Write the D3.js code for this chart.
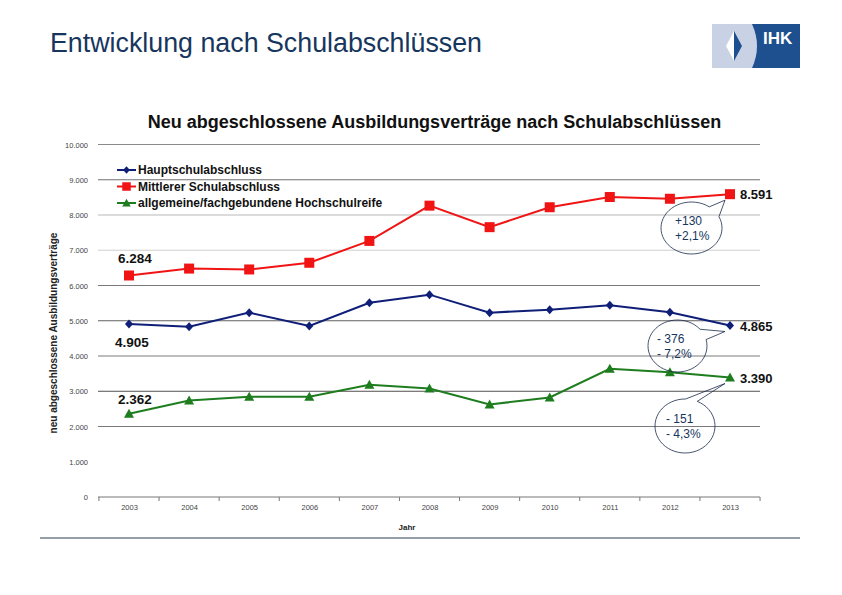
<!DOCTYPE html>
<html><head><meta charset="utf-8">
<script src="https://cdn.jsdelivr.net/npm/d3@7"></script>
<style>body{margin:0;background:#fff}svg{display:block;font-family:"Liberation Sans",Arial,sans-serif}</style>
</head><body><svg id="c" width="842" height="595"></svg>
<script>
const years = ["2003","2004","2005","2006","2007","2008","2009","2010","2011","2012","2013"];
const hauptschul = [4905,4830,5230,4850,5510,5740,5230,5315,5440,5241,4865];
const mittlerer = [6284,6480,6455,6645,7265,8265,7655,8220,8510,8461,8591];
const hochschul = [2362,2738,2842,2842,3182,3078,2624,2823,3635,3541,3390];
const seriesNames = ["Hauptschulabschluss","Mittlerer Schulabschluss","allgemeine/fachgebundene Hochschulreife"];
const yTicks = [0,1000,2000,3000,4000,5000,6000,7000,8000,9000,10000];
const startLabels = ["6.284","4.905","2.362"];
const endLabels = ["8.591","4.865","3.390"];
const bubbles = [["+130","+2,1%"],["- 376","- 7,2%"],["- 151","- 4,3%"]];

const svg = d3.select("#c");
const fmt = d => d3.format(",")(d).replace(/,/g,".");

// header
svg.append("text").attr("x",50).attr("y",52).attr("font-size",26.8).attr("fill","#17365d").text("Entwicklung nach Schulabschlüssen");
// logo
const lg = svg.append("g");
lg.append("rect").attr("x",712).attr("y",24).attr("width",88).attr("height",44).attr("fill","#1e4f8f");
lg.append("path").attr("d","M712,24 L752,24 Q762,46 752,68 L712,68 Z").attr("fill","#c9d1e5");
lg.append("path").attr("d","M734,31 L726,46 L734,61 Z").attr("fill","#ffffff");
lg.append("path").attr("d","M734,31 L742,46 L734,61 Z").attr("fill","#1e4f8f");
lg.append("text").attr("x",763).attr("y",44).attr("font-size",17).attr("font-weight","bold").attr("fill","#fff").text("IHK");

// chart
const x = d3.scalePoint().domain(years).range([129,730]);
const step = x.step();
const y = d3.scaleLinear().domain([0,10000]).range([497,144.5]);

svg.append("text").attr("x",434.5).attr("y",128).attr("text-anchor","middle").attr("font-size",18).attr("font-weight","bold").attr("fill","#111").text("Neu abgeschlossene Ausbildungsverträge nach Schulabschlüssen");

const gridCol = {10000:"#8a8a8a",9000:"#707070",8000:"#b8b8b8",7000:"#cfcfcf",6000:"#7a7a7a",5000:"#606060",4000:"#7a7a7a",3000:"#505050",2000:"#7a7a7a",1000:null,0:"#777"};
const x0 = 98, x1 = 760;
svg.append("g").selectAll("line").data(yTicks.filter(t=>gridCol[t])).join("line")
  .attr("x1",x0).attr("x2",x1).attr("y1",d=>y(d)).attr("y2",d=>y(d))
  .attr("stroke",d=>gridCol[d]).attr("stroke-width",1);

// y labels
svg.append("g").selectAll("text").data(yTicks).join("text")
  .attr("x",88).attr("y",d=>y(d)+3).attr("text-anchor","end").attr("font-size",7.5).attr("fill","#444").text(fmt);
// x ticks
const xa = d3.axisBottom(x).tickSize(0).tickPadding(0);
const gx = svg.append("g").attr("transform","translate(0,497)").call(xa);
gx.select(".domain").remove();
gx.selectAll("text").attr("dy",0).attr("y",13).attr("font-size",7.5).attr("fill","#444").attr("font-family","Liberation Sans, Arial, sans-serif");
svg.append("g").selectAll("line").data(d3.range(years.length+1)).join("line")
  .attr("x1",i=>x(years[0])-step/2+i*step).attr("x2",i=>x(years[0])-step/2+i*step)
  .attr("y1",497).attr("y2",501).attr("stroke","#777");
svg.append("text").attr("x",407).attr("y",530).attr("text-anchor","middle").attr("font-size",8).attr("font-weight","bold").attr("fill","#222").text("Jahr");
svg.append("text").attr("transform","translate(57,333) rotate(-90)").attr("text-anchor","middle").attr("font-size",10).attr("font-weight","bold").attr("fill","#222").text("neu abgeschlossene Ausbildungsverträge");

// series
const seriesData = [hauptschul, mittlerer, hochschul];
const colors = ["#0f1f78","#f01414","#1e7d1e"];
const line = d3.line().x((d,i)=>x(years[i])).y(d=>y(d));
seriesData.forEach((s,k)=>{
  svg.append("path").datum(s).attr("d",line).attr("fill","none").attr("stroke",colors[k]).attr("stroke-width",2);
});
function marker(g,k,cx,cy,scale){
  scale = scale||1;
  if(k===0) g.append("path").attr("d",`M${cx},${cy-4.5*scale} L${cx+4*scale},${cy} L${cx},${cy+4.5*scale} L${cx-4*scale},${cy} Z`).attr("fill",colors[0]);
  else if(k===1) g.append("rect").attr("x",cx-5*scale).attr("y",cy-5*scale).attr("width",10*scale).attr("height",10*scale).attr("fill",colors[1]);
  else g.append("path").attr("d",`M${cx},${cy-5*scale} L${cx+5*scale},${cy+4*scale} L${cx-5*scale},${cy+4*scale} Z`).attr("fill",colors[2]);
}
const mg = svg.append("g");
seriesData.forEach((s,k)=>s.forEach((v,i)=>marker(mg,k,x(years[i]),y(v))));

// legend
const leg = svg.append("g");
seriesNames.forEach((n,k)=>{
  const ly = 170 + k*16.5;
  leg.append("line").attr("x1",117).attr("x2",136).attr("y1",ly).attr("y2",ly).attr("stroke",colors[k]).attr("stroke-width",2);
  marker(leg,k,126.5,ly,0.85);
  leg.append("text").attr("x",138).attr("y",ly+4).attr("font-size",12).attr("font-weight","bold").attr("fill","#111").text(n);
});

// start / end labels
const order = [1,0,2];
const startPos = [[118,263],[115,347],[118,404]];
order.forEach((k,j)=>{
  svg.append("text").attr("x",startPos[j][0]).attr("y",startPos[j][1]).attr("font-size",13.5).attr("font-weight","bold").attr("fill","#111").text(startLabels[j]);
  const v = seriesData[k][years.length-1];
  svg.append("text").attr("x",x(years[years.length-1])+10).attr("y",y(v)+5).attr("font-size",13).attr("font-weight","bold").attr("fill","#111").text(endLabels[j]);
});

// bubbles
const bub = [
  {cx:691.5,cy:228,rx:30.5,ry:26,a1:-0.45,a2:-0.95,k:1,tx:675},
  {cx:677.5,cy:346,rx:29.5,ry:26,a1:-0.25,a2:-0.7,k:0,tx:657},
  {cx:685,cy:426,rx:30,ry:27,a1:-1.15,a2:-1.55,k:2,tx:666}
];
bub.forEach((b,j)=>{
  const tip = [x(years[years.length-1])-5, y(seriesData[b.k][years.length-1])+6];
  const p1 = [b.cx+b.rx*Math.cos(b.a1), b.cy+b.ry*Math.sin(b.a1)];
  const p2 = [b.cx+b.rx*Math.cos(b.a2), b.cy+b.ry*Math.sin(b.a2)];
  const d = `M${p1[0]},${p1[1]} A${b.rx},${b.ry} 0 1 1 ${p2[0]},${p2[1]} L${tip[0]},${tip[1]} Z`;
  svg.append("path").attr("d",d).attr("fill","none").attr("stroke","#1a2a4a").attr("stroke-width",0.8);
  svg.append("text").attr("x",b.tx).attr("y",b.cy-3).attr("font-size",12).attr("fill","#17365d").text(bubbles[j][0]);
  svg.append("text").attr("x",b.tx).attr("y",b.cy+12).attr("font-size",12).attr("fill","#17365d").text(bubbles[j][1]);
});

// bottom rule
svg.append("line").attr("x1",40).attr("x2",800).attr("y1",538).attr("y2",538).attr("stroke","#2e3f55").attr("stroke-width",1.2);
</script></body></html>
